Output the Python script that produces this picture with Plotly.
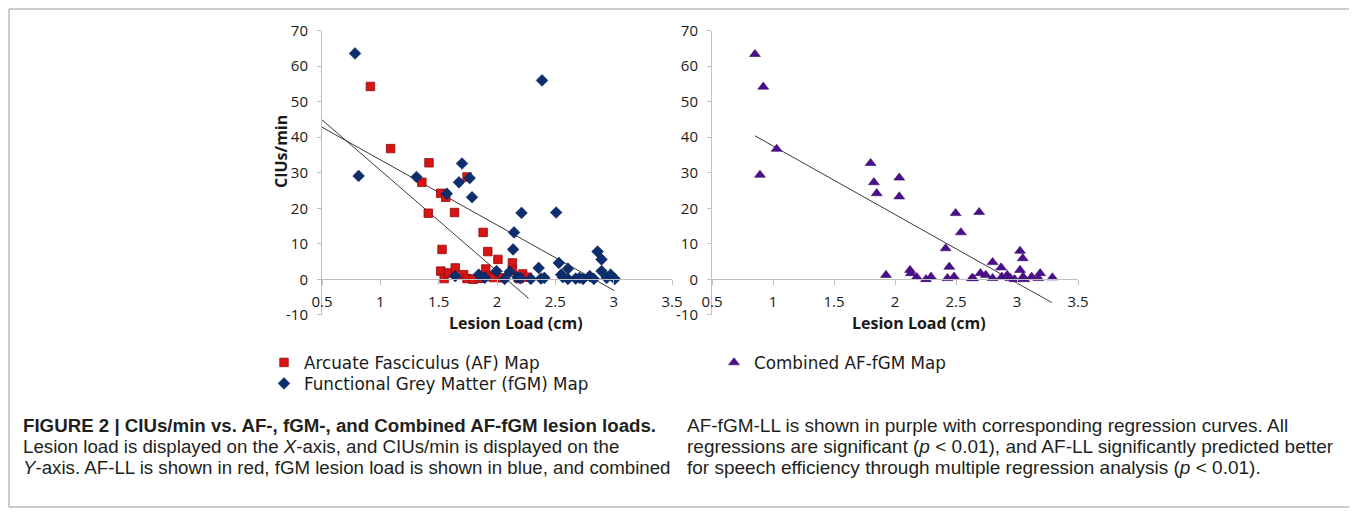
import plotly.graph_objects as go

# ---------------- data ----------------
af_x = [0.915, 1.088, 1.417, 1.356, 1.743, 1.518, 1.561, 1.411, 1.636, 1.881, 1.529, 1.921,
        2.008, 2.132, 1.518, 1.547, 1.584, 1.642, 1.714, 1.743, 1.795, 1.858, 1.904, 1.945,
        2.046, 2.132, 2.18, 2.22, 2.26, 1.97, 2.19]
af_y = [54.3, 36.8, 32.8, 27.3, 28.8, 24.2, 23.1, 18.6, 18.8, 13.2, 8.4, 7.8,
        5.6, 4.6, 2.3, 0.2, 1.8, 3.2, 1.3, 0.2, 0.0, 0.3, 2.9, 0.9,
        0.4, 2.5, 0.6, 1.5, 0.6, 0.5, 0.2]

fgm_x = [0.783, 0.814, 1.31, 1.70, 1.674, 1.766, 1.57, 1.786, 2.21, 2.146, 2.138, 2.386,
         2.507, 1.642, 1.843, 1.895, 1.996, 2.066, 2.109, 2.175, 2.29, 2.357, 2.377, 2.406,
         2.53, 2.55, 2.565, 2.608, 2.608, 2.674, 2.708, 2.738, 2.795, 2.83, 2.862, 2.896,
         2.896, 2.94, 2.974, 3.01, 2.2]
fgm_y = [63.6, 29.1, 28.8, 32.6, 27.3, 28.5, 24.1, 23.1, 18.7, 13.2, 8.4, 56.0,
         18.8, 0.9, 1.3, 0.4, 2.3, 0.1, 2.1, 0.6, 0.1, 3.2, 0.2, 0.4,
         4.6, 1.3, 0.6, 3.0, 0.1, 0.2, 0.4, 0.1, 0.9, 0.1, 7.8, 5.6,
         2.3, 0.4, 1.3, 0.1, 0.3]

comb_x = [0.852, 0.92, 0.893, 1.03, 1.80, 1.827, 1.85, 2.035, 2.035, 2.497, 2.69, 2.54,
          2.415, 3.025, 3.047, 2.80, 2.87, 2.445, 3.025, 1.926, 2.123, 2.13, 2.178, 2.254,
          2.295, 2.43, 2.484, 2.63, 2.70, 2.744, 2.80, 2.875, 2.92, 2.946, 2.98, 3.05,
          3.06, 3.12, 3.175, 3.19, 3.29, 2.64]
comb_y = [63.4, 54.2, 29.4, 36.7, 32.7, 27.3, 24.2, 28.6, 23.3, 18.6, 18.9, 13.2,
          8.7, 8.0, 5.9, 4.8, 3.3, 3.5, 2.6, 1.2, 2.6, 1.7, 0.6, 0.0,
          0.7, 0.3, 0.7, 0.3, 1.7, 1.2, 0.3, 0.7, 1.2, 0.3, 0.0, 0.7,
          0.0, 0.7, 0.3, 1.7, 0.5, 0.3]

# regression lines: slope, intercept, x extent
af_fit = (-28.4, 59.1)
af_fit_x = [0.5, 2.27]
fgm_fit = (-18.36, 52.0)
fgm_fit_x = [0.5, 3.006]
comb_fit = (-19.3, 56.85)
comb_fit_x = [0.852, 3.285]

x_ticks = [0.5, 1, 1.5, 2, 2.5, 3, 3.5]
x_tick_labels = ["0.5", "1", "1.5", "2", "2.5", "3", "3.5"]
y_ticks = [-10, 0, 10, 20, 30, 40, 50, 60, 70]
y_tick_labels = ["-10", "0", "10", "20", "30", "40", "50", "60", "70"]

names = ["Arcuate Fasciculus (AF) Map", "Functional Grey Matter (fGM) Map", "Combined AF-fGM Map"]

caption_left = [
    "<b>FIGURE 2 | CIUs/min vs. AF-, fGM-, and Combined AF-fGM lesion loads.</b>",
    "Lesion load is displayed on the <i>X</i>-axis, and CIUs/min is displayed on the",
    "<i>Y</i>-axis. AF-LL is shown in red, fGM lesion load is shown in blue, and combined",
]
caption_right = [
    "AF-fGM-LL is shown in purple with corresponding regression curves. All",
    "regressions are significant (<i>p</i> &lt; 0.01), and AF-LL significantly predicted better",
    "for speech efficiency through multiple regression analysis (<i>p</i> &lt; 0.01).",
]

# ---------------- figure ----------------
W, H = 1357, 513
OFF = 8  # page body margin in the browser
def px(x):
    return (x - OFF) / W
def py(y):
    return 1 - (y - OFF) / H

def fit_line(fit, xs):
    return [fit[0] * x + fit[1] for x in xs]

fig = go.Figure()

line_style = dict(color="#3a3a3a", width=1)

fig.add_trace(go.Scatter(x=af_fit_x, y=fit_line(af_fit, af_fit_x), mode="lines",
                         line=line_style, showlegend=False, xaxis="x", yaxis="y", hoverinfo="skip"))
fig.add_trace(go.Scatter(x=fgm_fit_x, y=fit_line(fgm_fit, fgm_fit_x), mode="lines",
                         line=line_style, showlegend=False, xaxis="x", yaxis="y", hoverinfo="skip"))
fig.add_trace(go.Scatter(x=af_x, y=af_y, mode="markers", name=names[0],
                         marker=dict(symbol="square", size=8.5, color="#D91414",
                                     line=dict(color="#8E0B0B", width=0.8)),
                         xaxis="x", yaxis="y", legend="legend"))
fig.add_trace(go.Scatter(x=fgm_x, y=fgm_y, mode="markers", name=names[1],
                         marker=dict(symbol="diamond", size=9, color="#0C2D6E",
                                     line=dict(color="#0A2358", width=0.6)),
                         xaxis="x", yaxis="y", legend="legend2"))

fig.add_trace(go.Scatter(x=comb_fit_x, y=fit_line(comb_fit, comb_fit_x), mode="lines",
                         line=line_style, showlegend=False, xaxis="x2", yaxis="y2", hoverinfo="skip"))
fig.add_trace(go.Scatter(x=comb_x, y=comb_y, mode="markers", name=names[2],
                         marker=dict(symbol="triangle-up", size=9.5, color="#4B0F8C",
                                     line=dict(color="#3A0A6E", width=0.6)),
                         xaxis="x2", yaxis="y2", legend="legend3"))

tick_font = dict(family="Open Sans", size=15, color="#1a1a1a")
axis_common = dict(showline=True, linecolor="#BFBFBF", linewidth=1, ticks="outside",
                   tickcolor="#BFBFBF", showgrid=False, zeroline=False, tickfont=tick_font)

y_dom = [py(314.8), py(30.7)]
x_pos = py(279.3)

leg_font = dict(family="DejaVu Sans", size=16.8, color="#1a1a1a")
def leg(xl, ytop):
    return dict(x=px(xl), y=py(ytop), xanchor="left", yanchor="top", bgcolor="rgba(0,0,0,0)",
                font=leg_font, itemwidth=30, borderwidth=0)

fig.update_layout(
    width=W, height=H,
    margin=dict(l=0, r=0, t=0, b=0, pad=0, autoexpand=False),
    paper_bgcolor="white", plot_bgcolor="white",
    xaxis=dict(domain=[px(322), px(672)], range=[0.5, 3.5], anchor="free", position=x_pos,
               tickvals=x_ticks, ticktext=x_tick_labels, ticklen=5, ticklabelstandoff=4, **axis_common),
    yaxis=dict(domain=y_dom, range=[-10, 70], anchor="x", tickvals=y_ticks, ticktext=y_tick_labels,
               ticklen=4, ticklabelstandoff=6, **axis_common),
    xaxis2=dict(domain=[px(712), px(1078)], range=[0.5, 3.5], anchor="free", position=x_pos,
                tickvals=x_ticks, ticktext=x_tick_labels, ticklen=5, ticklabelstandoff=4, **axis_common),
    yaxis2=dict(domain=y_dom, range=[-10, 70], anchor="x2", tickvals=y_ticks, ticktext=y_tick_labels,
                ticklen=4, ticklabelstandoff=6, **axis_common),
    legend=leg(264, 345),
    legend2=leg(264, 366),
    legend3=leg(714, 345),
    showlegend=True,
)

ann = []
title_font = dict(family="Open Sans", size=16, color="#1a1a1a")
ann.append(dict(text="<b>Lesion Load (cm)</b>", x=px(516), y=py(323), xref="paper", yref="paper",
                showarrow=False, xanchor="center", yanchor="middle", font=title_font))
ann.append(dict(text="<b>Lesion Load (cm)</b>", x=px(919), y=py(323), xref="paper", yref="paper",
                showarrow=False, xanchor="center", yanchor="middle", font=title_font))
ann.append(dict(text="<b>CIUs/min</b>", x=px(281), y=py(152), xref="paper", yref="paper",
                showarrow=False, xanchor="center", yanchor="middle", textangle=-90, font=title_font))

cap_font_l = dict(family="Liberation Sans", size=18.7, color="#231F20")
cap_font_r = dict(family="Liberation Sans", size=19, color="#231F20")
line_y = [425, 446, 467]
for txt, yy in zip(caption_left, line_y):
    ann.append(dict(text=txt, x=px(21), y=py(yy), xref="paper", yref="paper", showarrow=False,
                    xanchor="left", yanchor="middle", font=cap_font_l))
for txt, yy in zip(caption_right, line_y):
    ann.append(dict(text=txt, x=px(685), y=py(yy), xref="paper", yref="paper", showarrow=False,
                    xanchor="left", yanchor="middle", font=cap_font_r))
fig.update_layout(annotations=ann)

fig.add_shape(type="rect", xref="paper", yref="paper", x0=px(9), x1=px(1351), y0=py(507), y1=py(9),
              line=dict(color="#9a9a9a", width=1), fillcolor="rgba(0,0,0,0)")

fig.write_html("out.html")
